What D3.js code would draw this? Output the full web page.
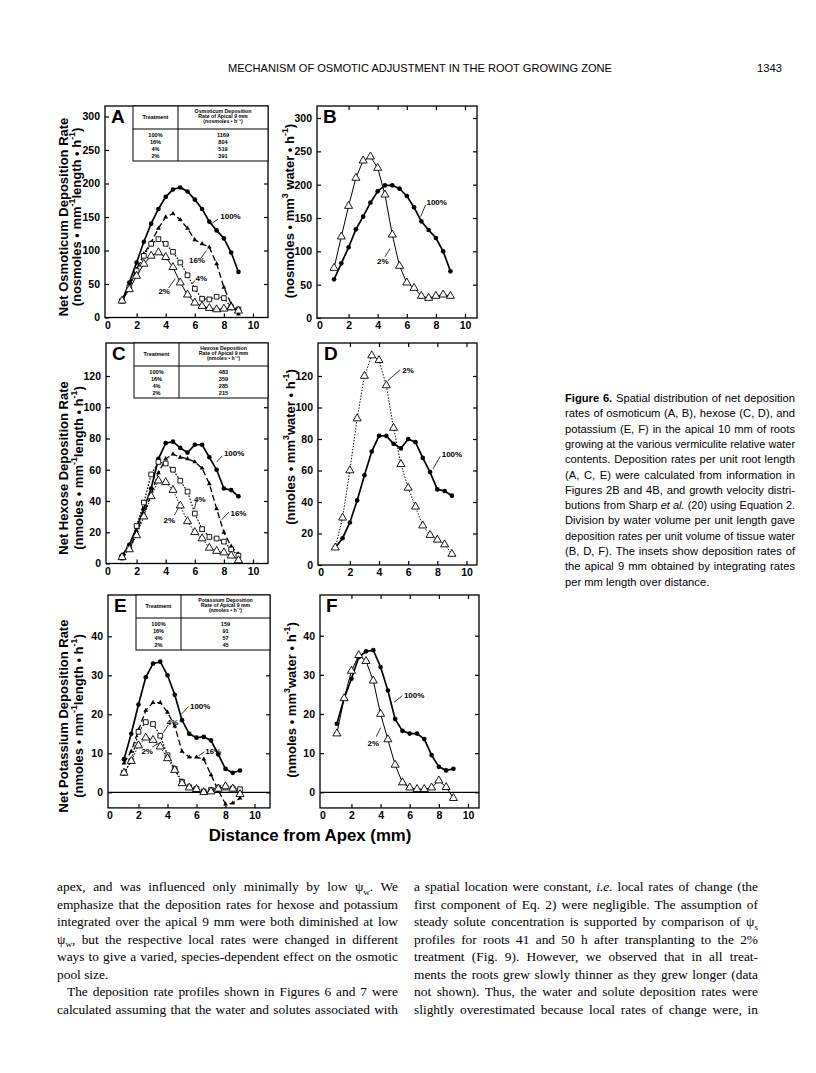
<!DOCTYPE html>
<html>
<head>
<meta charset="utf-8">
<script src="https://cdn.jsdelivr.net/npm/d3@7"></script>
<style>
  body { margin: 0; background: #fff; }
  svg { display: block; }
</style>
</head>
<body>
<script>
// ---- data ----
const distance = [1, 1.5, 2, 2.5, 3, 3.5, 4, 4.5, 5, 5.5, 6, 6.5, 7, 7.5, 8, 8.5, 9];
const xTicks = [0, 2, 4, 6, 8, 10];
const osmTicks = [0, 50, 100, 150, 200, 250, 300];
const hexTicks = [0, 20, 40, 60, 80, 100, 120];
const potTicks = [0, 10, 20, 30, 40];

// osmoticum per unit length (A)
const osmLen100 = [25, 52, 82, 113, 140, 162, 180, 191, 194, 188, 176, 162, 143, 130, 118, 97, 68];
const osmLen16 = [25, 48, 72, 95, 112, 133, 150, 155, 146, 133, 116, 110, 105, 80, 45, 20, 5];
const osmLen4 = [25, 45, 70, 92, 110, 117, 110, 98, 82, 63, 43, 28, 27, 31, 29, 15, 12];
const osmLen2 = [25, 42, 62, 80, 92, 97, 90, 75, 52, 34, 22, 17, 14, 12, 13, 15, 10];
// osmoticum per unit water volume (B)
const osmVol100 = [58, 82, 106, 133, 152, 173, 190, 199, 199, 194, 183, 166, 145, 132, 120, 100, 70];
const osmVol2 = [75, 122, 168, 210, 236, 242, 225, 185, 125, 78, 53, 45, 33, 30, 33, 35, 33];
// hexose per unit length (C)
const hexLen100 = [5, 12, 23, 35, 48, 67, 77, 78, 74, 71, 76, 76, 68, 60, 48, 47, 43];
const hexLen16 = [3, 9, 20, 32, 44, 58, 67, 70, 68, 67, 65, 61, 51, 35, 20, 11, 6];
const hexLen4 = [4, 10, 24, 39, 57, 65, 64, 60, 53, 46, 32, 22, 17, 16, 14, 9, 5];
const hexLen2 = [4, 9, 18, 30, 43, 53, 52, 47, 37, 27, 20, 16, 10, 8, 7, 5, 2];
// hexose per unit water volume (D)
const hexVol100 = [11, 17, 27, 41, 57, 72, 82, 82, 77, 74, 80, 78, 68, 59, 48, 47, 44];
const hexVol2 = [11, 30, 60, 93, 120, 133, 130, 114, 87, 64, 49, 37, 25, 19, 16, 13, 7];
// potassium per unit length (E)
const potLen100 = [8.5, 15, 22.5, 29.5, 33, 33.5, 30, 25, 18.5, 15, 14, 14.2, 13.3, 9.7, 6, 5, 5.6];
const potLen16 = [7.5, 10.5, 16, 21, 23, 23, 20.5, 17, 10.5, 9, 9, 8.5, 4.5, 0.5, -3, -2.8, -1.5];
const potLen4 = [5, 8, 15.5, 18, 17.5, 14.5, 9.5, 6, 2.7, 1.3, 0.9, 0.2, 0.6, 1.2, 1.2, 1, 0.8];
const potLen2 = [5, 8, 12, 14, 13.4, 11.7, 8.7, 5.7, 2.3, 1.2, 0.8, 0, 0.2, 0.9, 1.5, 0.9, -0.5];
// potassium per unit water volume (F)
const potVol100 = [17.5, 24, 29, 34.5, 36, 36.3, 32, 26, 18.7, 15.7, 15, 15, 13.6, 9.5, 6.5, 5.6, 6];
const potVol2 = [15, 24, 31, 35, 33.5, 28.5, 20, 13.5, 7, 2.5, 1.2, 0.8, 0.8, 1.2, 3, 1.3, -1.5];

// inset tables
const treatments = ["100%", "16%", "4%", "2%"];
const osmTotals = ["1169", "804", "519", "391"];
const hexTotals = ["483", "359", "285", "215"];
const potTotals = ["159", "91", "57", "45"];

// ---- page ----
const sans = "'Liberation Sans', Arial, Helvetica, sans-serif";
const serif = "'Liberation Serif', 'Times New Roman', serif";

const svg = d3.select("body").append("svg")
  .attr("width", 816)
  .attr("height", 1073)
  .style("background", "#fff");

// writes a text element made of plain / super / sub / bold / italic parts
function rich(t, parts, size) {
  let shift = 0;
  parts.forEach(p => {
    const s = t.append("tspan").text(p.t);
    const target = p.sup ? -0.4 * size : p.sub ? 0.28 * size : 0;
    if (target !== shift) { s.attr("dy", target - shift); shift = target; }
    if (p.sup || p.sub) s.attr("font-size", size * 0.68);
    if (p.b) s.attr("font-weight", "bold");
    if (p.i) s.attr("font-style", "italic");
  });
  return t;
}

// widen the gaps between words so the line fills w (or shrink a too-long line)
function justify(t, w, size) {
  const n = t.node();
  let natural = n.getComputedTextLength();
  if (natural > w) {
    const s = size * w / natural * 0.995;
    t.attr("font-size", s);
    t.selectAll("tspan").filter(function () { return this.getAttribute("font-size"); })
      .attr("font-size", s * 0.68);
    natural = n.getComputedTextLength();
  }
  const gaps = (n.textContent.match(/ /g) || []).length;
  if (gaps > 0 && natural < w) t.attr("word-spacing", (w - natural) / gaps);
}

// running head
svg.append("text").attr("x", 228).attr("y", 72)
  .attr("font-family", sans).attr("font-size", 11.2)
  .attr("textLength", 384).attr("lengthAdjust", "spacingAndGlyphs")
  .text("MECHANISM OF OSMOTIC ADJUSTMENT IN THE ROOT GROWING ZONE");
svg.append("text").attr("x", 782).attr("y", 72).attr("text-anchor", "end")
  .attr("font-family", sans).attr("font-size", 11.2)
  .text("1343");

const styles = {
  "100%": {marker: "circle", dash: null, width: 1.7},
  "16%": {marker: "smalltri", dash: "6,3", width: 1.3},
  "4%": {marker: "square", dash: "1.6,1.6", width: 1.2},
  "2%": {marker: "triangle", dash: null, width: 1}
};

const sup = t => ({t: t, sup: true});

const panels = [
  {key: "A", left: 105, right: 268, top: 106, xr: [107.5, 253], y0: 317.5, yt: 116.5, ytv: 300, ymin: 0,
   ticks: osmTicks, series: [["100%", osmLen100], ["16%", osmLen16], ["4%", osmLen4], ["2%", osmLen2]],
   table: {head: ["Osmoticum Deposition", "Rate of Apical 9 mm", "(nosmoles • h⁻¹)"], vals: osmTotals},
   titles: [{x: 65, y: 217, parts: [{t: "Net Osmoticum Deposition Rate"}]},
            {x: 78, y: 217, parts: [{t: "(nosmoles • mm"}, sup("-1"), {t: "length • h"}, sup("-1"), {t: ")"}]}],
   notes: [["100%", 7.75, 150, 7.6, 147, 7.15, 140], ["16%", 5.6, 84, 6.4, 88, 6.8, 100],
           ["4%", 6.05, 58, 6.0, 55, 5.8, 50], ["2%", 3.5, 38, 4.2, 44, 4.65, 58]]},
  {key: "B", left: 317, right: 477, top: 106, xr: [319.5, 465], y0: 318, yt: 118, ytv: 300, ymin: 0,
   ticks: osmTicks, series: [["100%", osmVol100], ["2%", osmVol2]],
   titles: [{x: 291, y: 211, parts: [{t: "(nosmoles • mm"}, sup("3"), {t: " water • h"}, sup("-1"), {t: ")"}]}],
   notes: [["100%", 7.35, 172, 7.3, 170, 6.95, 152], ["2%", 3.95, 84, 4.5, 92, 4.85, 104]]},
  {key: "C", left: 106, right: 268, top: 343, xr: [107.5, 253], y0: 563.5, yt: 376, ytv: 120, ymin: 0,
   ticks: hexTicks, series: [["100%", hexLen100], ["16%", hexLen16], ["4%", hexLen4], ["2%", hexLen2]],
   dotted2: true,
   table: {head: ["Hexose Deposition", "Rate of Apical 9 mm", "(nmoles • h⁻¹)"], vals: hexTotals},
   titles: [{x: 65, y: 468, parts: [{t: "Net Hexose Deposition Rate"}]},
            {x: 80, y: 468, parts: [{t: "(nmoles • mm"}, sup("-1"), {t: "length • h"}, sup("-1"), {t: ")"}]}],
   notes: [["100%", 8.0, 70, 7.9, 69, 7.5, 65], ["16%", 8.45, 32, 8.35, 33, 7.85, 28],
           ["4%", 5.95, 41, 6.1, 40, 5.98, 35], ["2%", 3.85, 27, 4.6, 31, 4.9, 36]]},
  {key: "D", left: 318, right: 477, top: 343, xr: [320.7, 466.5], y0: 565, yt: 376, ytv: 120, ymin: 0,
   ticks: hexTicks, series: [["100%", hexVol100], ["2%", hexVol2]],
   dotted2: true,
   titles: [{x: 292, y: 447, parts: [{t: "(nmoles • mm"}, sup("3"), {t: "water • h"}, sup("-1"), {t: ")"}]}],
   notes: [["100%", 8.3, 70, 8.2, 69, 7.7, 61], ["2%", 5.6, 123, 5.45, 124, 4.6, 117]]},
  {key: "E", left: 108, right: 270, top: 595, xr: [109.5, 254.5], y0: 792.3, yt: 636.3, ytv: 40, ymin: -4,
   ticks: potTicks, series: [["100%", potLen100], ["16%", potLen16], ["4%", potLen4], ["2%", potLen2]],
   dotted2: true, zero: true,
   table: {head: ["Potassium Deposition", "Rate of Apical 9 mm", "(nmoles • h⁻¹)"], vals: potTotals},
   titles: [{x: 65, y: 716, parts: [{t: "Net Potassium Deposition Rate"}]},
            {x: 80, y: 716, parts: [{t: "(nmoles • mm"}, sup("-1"), {t: "length • h"}, sup("-1"), {t: ")"}]}],
   notes: [["100%", 5.55, 22, 5.45, 22, 4.95, 20], ["16%", 6.6, 10.3, 6.55, 10.4, 6.15, 9.4],
           ["4%", 3.95, 17.7, 4.05, 17.3, 3.72, 15.3], ["2%", 2.2, 10.3, 2.95, 11.6, 3.4, 12.6]]},
  {key: "F", left: 320, right: 479, top: 595, xr: [322.3, 468], y0: 792.3, yt: 635.7, ytv: 40, ymin: -4,
   ticks: potTicks, series: [["100%", potVol100], ["2%", potVol2]],
   zero: true,
   titles: [{x: 293, y: 700, parts: [{t: "(nmoles • mm"}, sup("3"), {t: "water • h"}, sup("-1"), {t: ")"}]}],
   notes: [["100%", 5.6, 24.5, 5.5, 24.7, 4.92, 23], ["2%", 3.1, 12.3, 3.7, 14.2, 4.0, 16.5]]}
];

panels.forEach(p => {
  const g = svg.append("g");
  const x = d3.scaleLinear().domain([0, 10]).range(p.xr);
  const y = d3.scaleLinear().domain([0, p.ytv]).range([p.y0, p.yt]);
  const bottom = y(p.ymin);

  // frame
  g.append("rect").attr("x", p.left).attr("y", p.top)
    .attr("width", p.right - p.left).attr("height", bottom - p.top)
    .attr("fill", "none").attr("stroke", "#000").attr("stroke-width", 1.3);

  const inX = xTicks.filter(v => x(v) > p.left + 3 && x(v) < p.right - 3);
  const inY = p.ticks.filter(v => y(v) > p.top + 3 && y(v) < bottom - 3);

  // left axis
  g.append("g").attr("transform", `translate(${p.left},0)`)
    .call(d3.axisLeft(y).tickValues(p.ticks).tickSize(-4).tickPadding(5))
    .call(a => a.select(".domain").remove())
    .call(a => a.selectAll("line").attr("stroke-width", 1.2))
    .call(a => a.selectAll("text").attr("font-family", sans).attr("font-size", 10.5).attr("font-weight", "bold"));
  // bottom axis
  g.append("g").attr("transform", `translate(0,${bottom})`)
    .call(d3.axisBottom(x).tickValues(xTicks).tickSize(-4).tickPadding(4))
    .call(a => a.select(".domain").remove())
    .call(a => a.selectAll("line").attr("stroke-width", 1.2))
    .call(a => a.selectAll(".tick").filter(v => !inX.includes(v)).select("line").remove())
    .call(a => a.selectAll("text").attr("font-family", sans).attr("font-size", 10.5).attr("font-weight", "bold"));
  // top and right inner ticks
  g.append("g").attr("transform", `translate(0,${p.top})`)
    .call(d3.axisTop(x).tickValues(inX).tickSize(-4).tickFormat(""))
    .call(a => a.select(".domain").remove())
    .call(a => a.selectAll("line").attr("stroke-width", 1.2));
  g.append("g").attr("transform", `translate(${p.right},0)`)
    .call(d3.axisRight(y).tickValues(inY).tickSize(-4).tickFormat(""))
    .call(a => a.select(".domain").remove())
    .call(a => a.selectAll("line").attr("stroke-width", 1.2));

  if (p.zero) {
    g.append("line").attr("x1", p.left).attr("x2", p.right)
      .attr("y1", y(0)).attr("y2", y(0))
      .attr("stroke", "#000").attr("stroke-width", 1.2);
  }

  // panel letter
  g.append("text").attr("x", p.left + 6).attr("y", p.top + 17)
    .attr("font-family", sans).attr("font-size", 19).attr("font-weight", "bold")
    .text(p.key);

  // axis titles
  p.titles.forEach(t => {
    const el = g.append("text")
      .attr("transform", `translate(${t.x},${t.y}) rotate(-90)`)
      .attr("text-anchor", "middle").attr("dominant-baseline", "middle")
      .attr("font-family", sans).attr("font-size", 13).attr("font-weight", "bold");
    rich(el, t.parts, 13);
  });

  // lines
  const line = d3.line().x((d, i) => x(distance[i])).y(d => y(d));
  p.series.forEach(([name, vals]) => {
    const st = styles[name];
    let dash = st.dash;
    if (name === "2%" && p.dotted2) dash = "1.4,1.6";
    g.append("path").datum(vals)
      .attr("d", line)
      .attr("fill", "none").attr("stroke", "#000")
      .attr("stroke-width", st.width)
      .attr("stroke-dasharray", dash);
  });

  // markers
  p.series.forEach(([name, vals]) => {
    const st = styles[name];
    const pts = g.append("g").selectAll("path").data(vals).join("path")
      .attr("transform", (d, i) => `translate(${x(distance[i])},${y(d)})`);
    if (st.marker === "circle") {
      pts.attr("d", d3.symbol(d3.symbolCircle, 17)).attr("fill", "#000");
    } else if (st.marker === "smalltri") {
      pts.attr("d", d3.symbol(d3.symbolTriangle, 10)).attr("fill", "#000");
    } else if (st.marker === "square") {
      pts.attr("d", d3.symbol(d3.symbolSquare, 22)).attr("fill", "#fff")
        .attr("stroke", "#000").attr("stroke-width", 0.9);
    } else {
      pts.attr("d", d3.symbol(d3.symbolTriangle, 28)).attr("fill", "#fff")
        .attr("stroke", "#000").attr("stroke-width", 0.9);
    }
  });

  // series labels with leaders
  p.notes.forEach(([lab, tx, ty, lx1, ly1, lx2, ly2]) => {
    g.append("line")
      .attr("x1", x(lx1)).attr("y1", y(ly1)).attr("x2", x(lx2)).attr("y2", y(ly2))
      .attr("stroke", "#000").attr("stroke-width", 0.8);
    g.append("text").attr("x", x(tx)).attr("y", y(ty))
      .attr("dominant-baseline", "middle")
      .attr("font-family", sans).attr("font-size", 8).attr("font-weight", "bold")
      .attr("fill", "#000")
      .text(lab);
  });

  // inset table
  if (p.table) {
    const tl = p.left + 28, td = p.left + 73, tr = p.right, tt = p.top;
    const tg = g.append("g").attr("font-family", sans).attr("font-weight", "bold")
      .attr("text-anchor", "middle");
    tg.append("rect").attr("x", tl).attr("y", tt).attr("width", tr - tl).attr("height", 55)
      .attr("fill", "#fff").attr("stroke", "#000").attr("stroke-width", 1);
    tg.append("line").attr("x1", tl).attr("x2", tr).attr("y1", tt + 23).attr("y2", tt + 23)
      .attr("stroke", "#000").attr("stroke-width", 1);
    tg.append("line").attr("x1", td).attr("x2", td).attr("y1", tt).attr("y2", tt + 55)
      .attr("stroke", "#000").attr("stroke-width", 1);
    tg.append("text").attr("x", (tl + td) / 2).attr("y", tt + 13)
      .attr("font-size", 5.4).text("Treatment");
    p.table.head.forEach((h, i) => {
      tg.append("text").attr("x", (td + tr) / 2).attr("y", tt + 6.5 + i * 5.2)
        .attr("font-size", 5.2).text(h);
    });
    treatments.forEach((tname, i) => {
      tg.append("text").attr("x", (tl + td) / 2).attr("y", tt + 30.5 + i * 7.2)
        .attr("font-size", 5.6).text(tname);
      tg.append("text").attr("x", (td + tr) / 2).attr("y", tt + 30.5 + i * 7.2)
        .attr("font-size", 5.6).text(p.table.vals[i]);
    });
  }
});

// shared x title
svg.append("text").attr("x", 310).attr("y", 841).attr("text-anchor", "middle")
  .attr("font-family", sans).attr("font-size", 16.8).attr("font-weight", "bold")
  .text("Distance from Apex (mm)");

// figure legend
const captionLines = [
  [{t: "Figure 6.", b: true}, {t: " Spatial distribution of net deposition"}],
  [{t: "rates of osmoticum (A, B), hexose (C, D), and"}],
  [{t: "potassium (E, F) in the apical 10 mm of roots"}],
  [{t: "growing at the various vermiculite relative water"}],
  [{t: "contents. Deposition rates per unit root length"}],
  [{t: "(A, C, E) were calculated from information in"}],
  [{t: "Figures 2B and 4B, and growth velocity distri-"}],
  [{t: "butions from Sharp "}, {t: "et al.", i: true}, {t: " (20) using Equation 2."}],
  [{t: "Division by water volume per unit length gave"}],
  [{t: "deposition rates per unit volume of tissue water"}],
  [{t: "(B, D, F). The insets show deposition rates of"}],
  [{t: "the apical 9 mm obtained by integrating rates"}],
  [{t: "per mm length over distance."}]
];
captionLines.forEach((parts, i) => {
  const t = svg.append("text").attr("x", 565).attr("y", 402 + i * 15.3)
    .attr("font-family", sans).attr("font-size", 11.2);
  rich(t, parts, 11.2);
  if (i < captionLines.length - 1) justify(t, 230, 11.2);
});

// body text, two columns
const psi = s => [{t: "ψ"}, {t: s, sub: true}];
const leftCol = [
  [{t: "apex, and was influenced only minimally by low "}, ...psi("w"), {t: ". We"}],
  [{t: "emphasize that the deposition rates for hexose and potassium"}],
  [{t: "integrated over the apical 9 mm were both diminished at low"}],
  [...psi("w"), {t: ", but the respective local rates were changed in different"}],
  [{t: "ways to give a varied, species-dependent effect on the osmotic"}],
  [{t: "pool size."}],
  [{t: "The deposition rate profiles shown in Figures 6 and 7 were"}],
  [{t: "calculated assuming that the water and solutes associated with"}]
];
const rightCol = [
  [{t: "a spatial location were constant, "}, {t: "i.e.", i: true}, {t: " local rates of change (the"}],
  [{t: "first component of Eq. 2) were negligible. The assumption of"}],
  [{t: "steady solute concentration is supported by comparison of "}, ...psi("s")],
  [{t: "profiles for roots 41 and 50 h after transplanting to the 2%"}],
  [{t: "treatment (Fig. 9). However, we observed that in all treat-"}],
  [{t: "ments the roots grew slowly thinner as they grew longer (data"}],
  [{t: "not shown). Thus, the water and solute deposition rates were"}],
  [{t: "slightly overestimated because local rates of change were, in"}]
];
function column(lines, x0, w, indentRow, loose) {
  lines.forEach((parts, i) => {
    const indent = i === indentRow ? 10 : 0;
    const t = svg.append("text").attr("x", x0 + indent).attr("y", 891 + i * 17.5)
      .attr("font-family", serif).attr("font-size", 13.4);
    rich(t, parts, 13.4);
    if (!loose.includes(i)) justify(t, w - indent, 13.4);
  });
}
column(leftCol, 57, 341, 6, [5]);
column(rightCol, 414, 344, -1, []);
</script>
</body>
</html>
